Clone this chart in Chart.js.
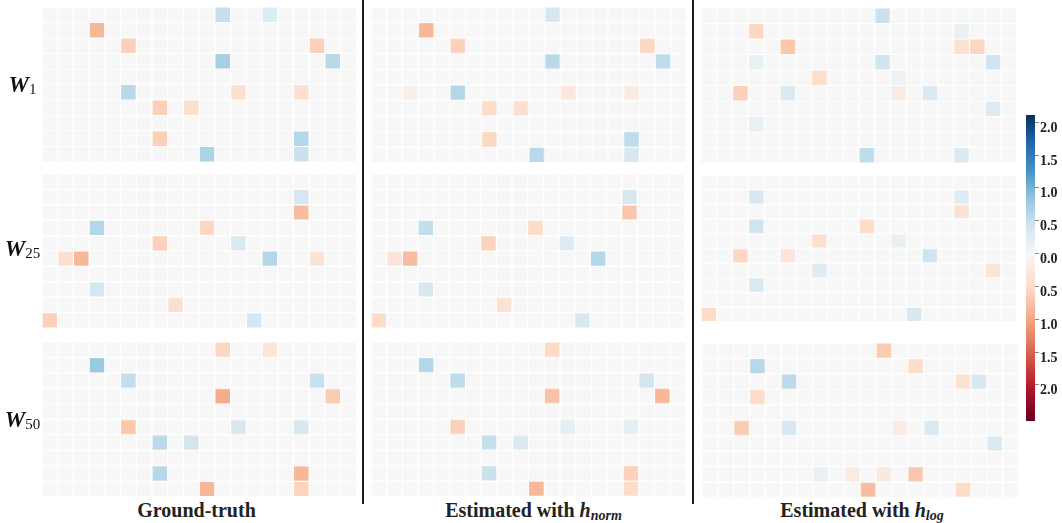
<!DOCTYPE html>
<html>
<head>
<meta charset="utf-8">
<script src="https://cdn.jsdelivr.net/npm/chart.js@4/dist/chart.umd.min.js"></script>
<style>
  body { margin: 0; background: #fff; width: 1062px; height: 523px; overflow: hidden; position: relative; font-family: 'Liberation Serif', 'Times New Roman', serif; }
  .panel { position: absolute; }
  .sep { position: absolute; width: 2px; background: #1a1a1a; top: 0; height: 504px; }
  .rowlab { position: absolute; left: 0; width: 45px; text-align: center; line-height: 26px; color: #111; white-space: nowrap; }
  .rowlab b { font-size: 23px; font-style: italic; font-weight: bold; }
  .rowlab span { font-size: 15px; position: relative; top: 2px; }
  .title { position: absolute; width: 400px; text-align: center; font-size: 20px; font-weight: bold; line-height: 24px; color: #222; white-space: nowrap; top: 498px; }
  .title i { font-weight: bold; }
  .title sub { font-size: 14px; vertical-align: -3px; line-height: 0; }
</style>
</head>
<body>
<script>
// grid categories
const colLabels = ['0','1','2','3','4','5','6','7','8','9','10','11','12','13','14','15','16','17','18','19'];
const rowLabels = ['0','1','2','3','4','5','6','7','8','9'];

// non-zero cells: [row, col, value]
const w1Truth = [[0,11,0.5],[0,14,0.29],[1,3,-0.85],[2,5,-0.6],[2,17,-0.6],[3,11,0.7],[3,18,0.58],[5,5,0.58],[5,12,-0.4],[5,16,-0.4],[6,7,-0.62],[6,9,-0.42],[8,7,-0.62],[8,16,0.62],[9,10,0.66],[9,16,0.46]];
const w1Norm = [[0,11,0.37],[1,3,-0.85],[2,5,-0.6],[2,17,-0.55],[3,11,0.58],[3,18,0.54],[5,2,-0.15],[5,5,0.62],[5,12,-0.3],[5,16,-0.22],[6,7,-0.5],[6,9,-0.42],[8,7,-0.55],[8,16,0.54],[9,10,0.58],[9,16,0.35]];
const w1Log = [[0,11,0.46],[1,3,-0.55],[1,16,0.17],[2,5,-0.7],[2,16,-0.38],[2,17,-0.55],[3,3,0.17],[3,11,0.42],[3,18,0.42],[4,7,-0.45],[4,12,0.12],[5,2,-0.6],[5,5,0.32],[5,12,-0.2],[5,14,0.32],[6,18,0.27],[7,3,0.17],[9,10,0.54],[9,16,0.32]];
const w25Truth = [[1,16,0.37],[2,16,-0.8],[3,3,0.62],[3,10,-0.55],[4,7,-0.6],[4,12,0.33],[5,1,-0.42],[5,2,-0.85],[5,14,0.62],[5,17,-0.35],[7,3,0.37],[8,8,-0.42],[9,0,-0.6],[9,13,0.37]];
const w25Norm = [[1,16,0.35],[2,16,-0.7],[3,3,0.51],[3,10,-0.48],[4,7,-0.58],[4,12,0.27],[5,1,-0.32],[5,2,-0.8],[5,14,0.62],[7,3,0.35],[8,8,-0.38],[9,0,-0.48],[9,13,0.33]];
const w25Log = [[1,3,0.35],[1,16,0.25],[2,16,-0.38],[3,3,0.43],[3,10,-0.48],[4,7,-0.42],[4,12,0.17],[5,2,-0.55],[5,5,-0.32],[5,14,0.43],[6,7,0.29],[6,18,-0.32],[7,3,0.33],[9,0,-0.48],[9,13,0.35]];
const w50Truth = [[0,11,-0.55],[0,14,-0.32],[1,3,0.79],[2,5,0.51],[2,17,0.48],[3,11,-0.95],[3,18,-0.65],[5,5,-0.7],[5,12,0.35],[5,16,0.35],[6,7,0.56],[6,9,0.4],[8,7,0.6],[8,16,-0.85],[9,10,-0.85],[9,16,-0.58]];
const w50Norm = [[0,11,-0.52],[1,3,0.62],[2,5,0.54],[2,17,0.4],[3,11,-0.75],[3,18,-0.85],[5,5,-0.6],[5,12,0.21],[5,16,0.21],[6,7,0.5],[6,9,0.32],[8,7,0.46],[8,16,-0.6],[9,10,-0.85],[9,16,-0.48]];
const w50Log = [[0,11,-0.65],[1,3,0.6],[1,13,-0.48],[2,5,0.56],[2,16,-0.38],[2,17,0.35],[3,3,-0.48],[5,2,-0.65],[5,5,0.35],[5,12,-0.2],[5,14,0.32],[6,18,0.32],[8,7,0.17],[8,9,-0.22],[8,11,-0.25],[8,13,-0.7],[9,10,-0.8],[9,16,-0.48]];

// colour bar
const cbarMin = -2.55;
const cbarMax = 2.11;
const cbarTicks = [-2, -1.5, -1, -0.5, 0, 0.5, 1, 1.5, 2];

const rdbu = ['#67001f','#b2182b','#d6604d','#f4a582','#fddbc7','#f7f7f7','#d1e5f0','#92c5de','#4393c3','#2166ac','#053061'];

function hexToRgb(h) {
    return [parseInt(h.slice(1,3),16), parseInt(h.slice(3,5),16), parseInt(h.slice(5,7),16)];
}

// two-slope norm: centre 0 -> white, min -> dark red, max -> dark blue
function normT(v) {
    const t = v < 0 ? 0.5 + 0.5 * v / -cbarMin : 0.5 + 0.5 * v / cbarMax;
    return Math.max(0, Math.min(1, t));
}

function cellColor(v) {
    const pos = normT(v) * (rdbu.length - 1);
    const i = Math.min(Math.floor(pos), rdbu.length - 2);
    const f = pos - i;
    const a = hexToRgb(rdbu[i]), b = hexToRgb(rdbu[i + 1]);
    const c = a.map((x, k) => Math.round(x + (b[k] - x) * f));
    return `rgb(${c[0]},${c[1]},${c[2]})`;
}

function buildGrid(cells) {
    const grid = rowLabels.map(() => colLabels.map(() => 0));
    cells.forEach(([r, c, v]) => { grid[r][c] = v; });
    return grid;
}

function addBox(cls, left, top, width, height) {
    const div = document.createElement('div');
    div.className = cls;
    div.style.left = left + 'px';
    div.style.top = top + 'px';
    if (width) div.style.width = width + 'px';
    if (height) div.style.height = height + 'px';
    document.body.appendChild(div);
    return div;
}

function drawPanel(cells, left, top, width, height) {
    const box = addBox('panel', left, top, width, height);
    const canvas = document.createElement('canvas');
    box.appendChild(canvas);
    const grid = buildGrid(cells);

    new Chart(canvas.getContext('2d'), {
        type: 'bar',
        data: {
            labels: colLabels,
            datasets: rowLabels.map((rl, r) => ({
                label: rl,
                data: colLabels.map(() => [r, r + 1]),
                backgroundColor: grid[r].map(cellColor),
                borderColor: '#ffffff',
                borderWidth: 0.6,
                borderSkipped: false,
                inflateAmount: 0,
                grouped: false,
                barPercentage: 1.0,
                categoryPercentage: 1.0
            }))
        },
        options: {
            responsive: true,
            maintainAspectRatio: false,
            animation: false,
            layout: { padding: 0 },
            plugins: { legend: { display: false }, tooltip: { enabled: false } },
            scales: {
                x: { display: false },
                y: { display: false, min: 0, max: rowLabels.length, reverse: true }
            }
        }
    });
}

function drawColorbar(left, top, width, height) {
    const box = addBox('panel', left, top, width, height);
    const canvas = document.createElement('canvas');
    box.appendChild(canvas);

    new Chart(canvas.getContext('2d'), {
        type: 'bar',
        data: {
            labels: ['cbar'],
            datasets: [{
                data: [[cbarMin, cbarMax]],
                backgroundColor: (ctx) => {
                    const chart = ctx.chart;
                    if (!chart.chartArea) return '#f7f7f7';
                    const ys = chart.scales.y;
                    const g = chart.ctx.createLinearGradient(0, ys.getPixelForValue(cbarMin), 0, ys.getPixelForValue(cbarMax));
                    const n = rdbu.length - 1;
                    rdbu.forEach((c, i) => {
                        const v = i < n / 2 ? cbarMin * (1 - 2 * i / n) : cbarMax * (2 * i / n - 1);
                        g.addColorStop((v - cbarMin) / (cbarMax - cbarMin), c);
                    });
                    return g;
                },
                borderWidth: 0,
                inflateAmount: 0,
                barPercentage: 1.0,
                categoryPercentage: 1.0
            }]
        },
        options: {
            responsive: true,
            maintainAspectRatio: false,
            animation: false,
            layout: { padding: 0 },
            plugins: { legend: { display: false }, tooltip: { enabled: false } },
            scales: {
                x: { display: false },
                y: {
                    position: 'right',
                    min: cbarMin,
                    max: cbarMax,
                    afterBuildTicks: (s) => { s.ticks = cbarTicks.map(v => ({ value: v })); },
                    afterFit: (s) => { s.width = 27; s.paddingTop = 0; s.paddingBottom = 0; },
                    border: { display: false },
                    grid: { drawOnChartArea: false, tickLength: 4, tickColor: '#888', tickWidth: 1 },
                    ticks: {
                        padding: 1,
                        labelOffset: 6,
                        color: '#222',
                        font: { family: "'Liberation Serif', 'Times New Roman', serif", size: 14, weight: 'bold' },
                        callback: (v) => Math.abs(v).toFixed(1)
                    }
                }
            }
        }
    });
}

// heatmap panels
drawPanel(w1Truth, 41.7, 7.3, 314.3, 155);
drawPanel(w1Norm, 371, 7.3, 314.7, 154.7);
drawPanel(w1Log, 701, 8.3, 314.7, 155);
drawPanel(w25Truth, 41.7, 174.3, 314.3, 154);
drawPanel(w25Norm, 371, 174, 313.3, 154);
drawPanel(w25Log, 701, 175, 314.7, 145.7);
drawPanel(w50Truth, 41.7, 342.3, 314.3, 153.7);
drawPanel(w50Norm, 371, 342.3, 315, 153.4);
drawPanel(w50Log, 702.3, 343.3, 315.4, 153.4);

drawColorbar(1026, 115.3, 36, 306);

// separators
addBox('sep', 362, 0);
addBox('sep', 692.3, 0);

// row labels
const rowTitles = [['1', 71.5], ['25', 236.2], ['50', 406.8]];
rowTitles.forEach(([sub, top]) => {
    const d = addBox('rowlab', 0, top);
    d.innerHTML = `<b>W</b><span>${sub}</span>`;
});

// column titles
const colTitles = [['Ground-truth', 196.5], ['Estimated with <i>h</i><sub><i>norm</i></sub>', 533.5], ['Estimated with <i>h</i><sub><i>log</i></sub>', 862]];
colTitles.forEach(([html, cx]) => {
    const d = addBox('title', cx - 200, 498);
    d.innerHTML = html;
});
</script>
</body>
</html>
